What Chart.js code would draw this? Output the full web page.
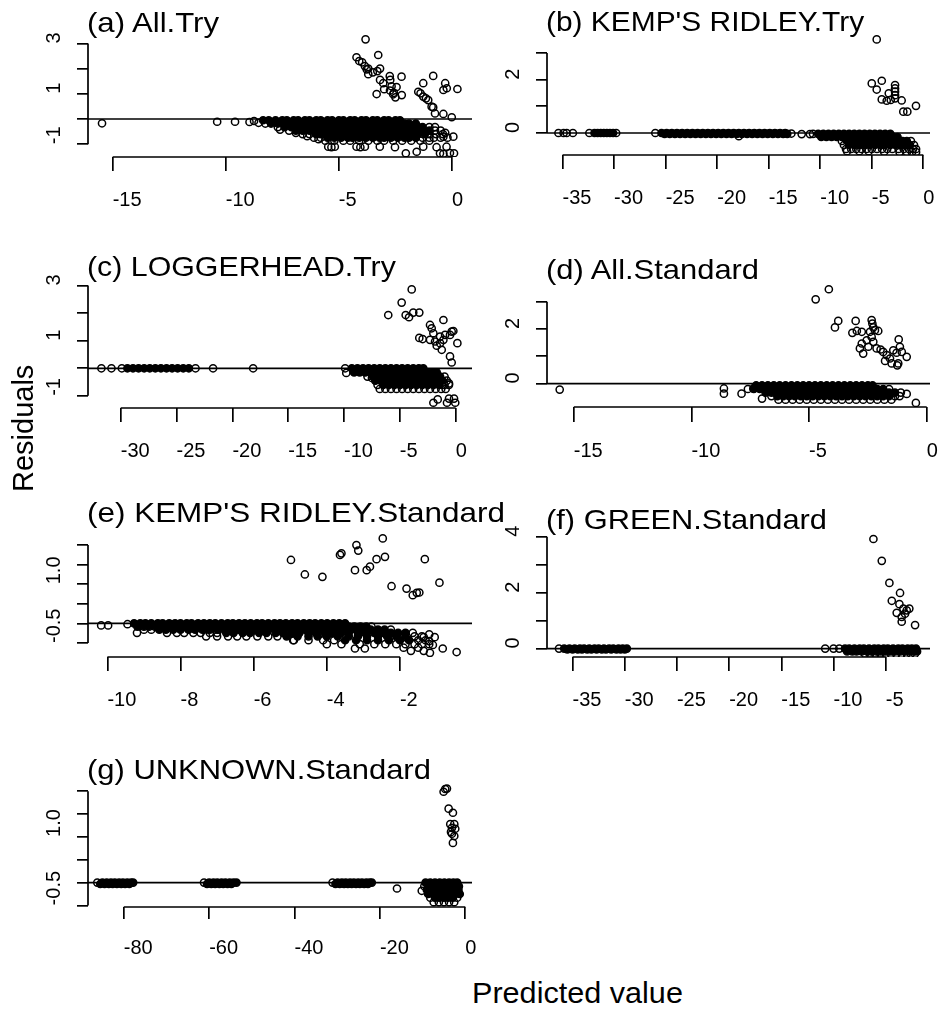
<!DOCTYPE html>
<html>
<head>
<title>Residuals vs predicted</title>
<script src="https://cdn.jsdelivr.net/npm/chart.js"></script>
<style>
  body { margin: 0; background: #fff; }
  #page { position: relative; width: 940px; height: 1012px; overflow: hidden;
          font-family: "Liberation Sans", Arial, sans-serif; color: #000; }
  #page canvas { position: absolute; }
  .txt { position: absolute; white-space: nowrap; line-height: 1; transform-origin: 0 0; }
</style>
</head>
<body>
<div id="page"></div>
<script>
// ---------- values ----------
// loose points are [x, y]; bands are rows [y, [x, x, ...]]
// "Core" rows are where hundreds of points overplot into solid black,
// the other rows are the ragged edge where single circles still show.

// (a) All.Try
const aXTicks = [-15, -10, -5, 0];
const aYTicks = [-1, 0, 1, 2, 3];
const aYLabels = [-1, 1, 3];
const aPoints = [
  [-15.47,-0.17],[-10.38,-0.11],[-9.59,-0.11],[-8.95,-0.12],[-8.75,-0.08],[-8.55,-0.15],
  [-7.6,-0.42],[-6.9,-0.55],[-6.4,-0.68],[-5.9,-0.8],
  [-5.47,-1.1],[-5.33,-1.12],[-5.18,-1.1],[-4.22,-1.1],[-4.05,-1.12],[-3.85,-1.1],[-3.19,-1.1],
  [-2.52,-1.12],[-1.27,-1.1],[-0.68,-1.12],[-0.24,-1.1],
  [-2.04,-1.36],[-1.56,-1.3],[-0.53,-1.36],[-0.38,-1.38],[-0.09,-1.35],[0.09,-1.36],
  [-0.38,-0.7],[0.06,-0.7],[-0.3,-0.55],
  [-3.82,3.16],[-3.26,2.54],[-4.22,2.45],[-4.1,2.3],[-3.97,2.25],[-3.85,2.1],[-3.7,2.0],[-3.77,1.97],
  [-3.18,2.0],[-3.3,1.9],[-3.5,1.85],[-3.7,1.78],[-2.75,1.7],[-3.18,1.55],[-3.04,1.42],[-3.33,0.99],
  [-3.0,1.18],[-2.67,1.3],[-2.74,1.13],[-2.6,0.98],[-2.45,1.27],[-2.57,1.04],[-2.5,0.86],[-2.22,0.95],
  [-1.49,1.08],[-1.39,1.02],[-1.27,0.89],[-1.15,0.82],[-1.05,0.75],[-0.9,0.49],[-0.83,0.46],[-0.75,0.22],
  [-0.38,0.2],[-0.01,0.07],[-1.27,1.42],[-0.83,1.71],[-0.3,1.42],[-0.38,1.15],[-0.23,1.22],[0.24,1.19],
  [-2.73,1.55],[-2.23,1.68]
];
const aCore = [
  [-0.05, [-8.35,-8.1,-7.8,-7.5,-7.3,-7.0,-6.8,-6.5,-6.3,-6.0,-5.8,-5.5,-5.3,-5.0,-4.8,-4.5,-4.3,-4.0,-3.8,-3.5,-3.3,-3.0,-2.8,-2.5,-2.3]],
  [-0.18, [-8.0,-7.7,-7.4,-7.1,-6.9,-6.6,-6.4,-6.1,-5.9,-5.6,-5.4,-5.1,-4.9,-4.6,-4.4,-4.1,-3.9,-3.6,-3.4,-3.1,-2.9,-2.6,-2.4,-2.1,-1.9,-1.6]],
  [-0.32, [-7.4,-7.1,-6.8,-6.5,-6.3,-6.0,-5.7,-5.5,-5.2,-4.9,-4.7,-4.4,-4.2,-3.9,-3.6,-3.4,-3.1,-2.8,-2.6,-2.3,-2.0,-1.8,-1.5,-1.3]],
  [-0.46, [-6.9,-6.6,-6.3,-6.1,-5.8,-5.5,-5.3,-5.0,-4.7,-4.5,-4.2,-3.9,-3.7,-3.4,-3.1,-2.9,-2.6,-2.3,-2.1,-1.8,-1.5,-1.3,-1.0]],
  [-0.6, [-6.0,-5.8,-5.5,-5.2,-5.0,-4.7,-4.4,-4.2,-3.9,-3.6,-3.4,-3.1,-2.8,-2.6,-2.3,-2.0,-1.8,-1.5,-1.2]],
  [-0.74, [-5.5,-5.2,-4.9,-4.6,-4.4,-4.1,-3.8,-3.5,-3.2,-3.0,-2.7,-2.4,-2.1,-1.9,-1.6]]
];
const aRows = [
  [-0.18, [-8.25]],
  [-0.32, [-7.7,-1.0,-0.75]],
  [-0.46, [-7.2,-0.75,-0.5]],
  [-0.6, [-6.6,-6.3,-1.0,-0.7,-0.4]],
  [-0.74, [-6.1,-5.8,-1.3,-1.0,-0.8,-0.5,-0.2]],
  [-0.86, [-5.6,-5.2,-4.8,-4.5,-4.1,-3.7,-3.3,-3.0,-2.6,-2.2,-1.8,-1.4,-1.0]]
];

// (b) KEMP'S RIDLEY.Try
const bXTicks = [-35, -30, -25, -20, -15, -10, -5, 0];
const bYTicks = [0, 1, 2, 3];
const bYLabels = [0, 2];
const bPoints = [
  [-35.4,0],[-34.9,0],[-34.6,0],[-34.0,0],[-32.4,0],[-29.8,0],[-26.0,0],[-12.8,-0.02],
  [-17.9,-0.12],[-11.8,-0.04],[-11.0,-0.04],
  [-7.4,-0.68],[-6.2,-0.68],[-5.3,-0.68],[-3.8,-0.7],[-2.3,-0.72],[-1.6,-0.72],[-1.1,-0.72],[-0.7,-0.72],
  [-4.52,3.51],[-5.0,1.86],[-4.03,1.96],[-4.52,1.63],[-4.03,1.26],[-3.55,1.21],[-3.16,1.24],[-3.35,1.49],
  [-2.74,1.8],[-2.74,1.67],[-2.74,1.55],[-2.74,1.42],[-2.74,1.3],[-2.1,1.22],[-1.94,0.8],[-1.55,0.8],[-0.71,1.02]
];
const bCore = [
  [0, [-31.9,-31.6,-31.3,-31.0,-30.7,-30.4,-30.1]],
  [0, [-25.4,-24.9,-24.4,-23.9,-23.4,-22.9,-22.4,-21.9,-21.4,-20.9,-20.4,-19.9,-19.4,-18.9,-18.4,-17.9,-17.4,-16.9,-16.4,-15.9,-15.4,-14.9,-14.4,-13.9,-13.4]],
  [-0.03, [-25.1,-24.6,-24.1,-23.6,-23.1,-22.6,-22.1,-21.6,-21.1,-20.6,-20.1,-19.6,-19.1,-18.6,-18.1,-17.6,-17.1,-16.6,-16.1,-15.6,-15.1,-14.6,-14.1,-13.6,-13.2]],
  [-0.03, [-10.2,-9.7,-9.2,-8.7,-8.2,-7.7,-7.2,-6.7,-6.2,-5.7,-5.2,-4.7,-4.2,-3.7,-3.2]],
  [-0.15, [-9.9,-9.4,-8.9,-8.4,-7.9,-7.4,-6.9,-6.4,-5.9,-5.4,-4.9,-4.4,-3.9,-3.4,-2.9,-2.5]],
  [-0.3, [-7.4,-6.9,-6.4,-5.9,-5.4,-4.9,-4.4,-3.9,-3.4,-2.9,-2.4,-2.0,-1.6]],
  [-0.45, [-7.2,-6.7,-6.2,-5.7,-5.2,-4.7,-4.2,-3.7,-3.2,-2.7,-2.2,-1.8,-1.3]]
];
const bRows = [
  [-0.03, [-10.7]],
  [-0.3, [-7.9,-1.2]],
  [-0.45, [-7.7,-0.9]],
  [-0.6, [-7.5,-7.0,-6.5,-6.0,-5.5,-5.0,-4.5,-4.0,-3.5,-3.0,-2.4,-1.9,-1.4,-1.0,-0.7]]
];

// (c) LOGGERHEAD.Try
const cXTicks = [-30, -25, -20, -15, -10, -5, 0];
const cYTicks = [-1, 0, 1, 2, 3];
const cYLabels = [-1, 1, 3];
const cPoints = [
  [-31.73,0],[-30.83,0],[-29.9,0],[-23.3,0],[-21.73,0],[-18.14,0],[-9.9,0],
  [-9.8,-0.17],[-7.5,-0.35],[-2.0,-1.25],[-1.61,-1.13],[-0.6,-1.1],[-0.15,-1.1],[-0.78,-1.25],[-0.04,-1.25],
  [-1.2,-0.6],[-0.6,-0.55],
  [-6.04,1.93],[-4.84,2.38],[-3.94,2.86],[-4.48,1.93],[-4.18,1.85],[-3.8,2.02],[-3.26,2.02],[-2.96,1.06],
  [-3.26,1.1],[-2.15,1.45],[-2.0,1.27],[-2.3,1.03],[-1.85,0.97],[-1.4,1.15],[-1.4,0.91],[-1.1,1.03],
  [-0.51,1.21],[-0.36,1.33],[0.15,0.91],[-1.7,0.82],[-1.25,0.67],[-0.95,1.21],[-0.21,1.35],[-1.1,1.75],
  [-2.3,1.57],[-0.51,0.43],[-0.36,0.21]
];
const cCore = [
  [0, [-29.4,-28.9,-28.4,-27.9,-27.4,-26.9,-26.4,-25.9,-25.4,-24.9,-24.4,-23.9]],
  [0, [-9.3,-8.8,-8.3,-7.8,-7.3,-6.8,-6.3,-5.8,-5.3,-4.8,-4.3,-3.8,-3.3,-2.9]],
  [-0.15, [-9.1,-8.6,-8.1,-7.6,-7.1,-6.6,-6.1,-5.6,-5.1,-4.6,-4.1,-3.6,-3.1,-2.6,-2.1,-1.7]],
  [-0.3, [-7.4,-6.9,-6.4,-5.9,-5.4,-4.9,-4.4,-3.9,-3.4,-2.9,-2.4,-1.9,-1.4]],
  [-0.45, [-7.2,-6.7,-6.2,-5.7,-5.2,-4.7,-4.2,-3.7,-3.2,-2.7,-2.2,-1.7,-1.2]],
  [-0.6, [-6.5,-6.0,-5.5,-5.0,-4.5,-4.0,-3.5,-3.0,-2.5,-2.0,-1.5]]
];
const cRows = [
  [-0.3, [-7.9,-1.0]],
  [-0.45, [-0.8]],
  [-0.6, [-7.0,-1.0,-0.6]],
  [-0.75, [-6.8,-6.3,-5.8,-5.3,-4.8,-4.3,-3.8,-3.3,-2.8,-2.3,-1.8,-1.3,-0.9]]
];

// (d) All.Standard
const dXTicks = [-15, -10, -5, 0];
const dYTicks = [0, 1, 2, 3];
const dYLabels = [0, 2];
const dPoints = [
  [-15.6,-0.22],[-8.62,-0.18],[-8.62,-0.37],[-7.87,-0.37],[-7.37,-0.18],[-7.0,-0.55],[-0.85,-0.38],[-0.46,-0.71],
  [-7.6,-0.2],[-1.6,-0.2],[-1.1,-0.33],
  [-4.72,3.09],[-4.16,3.46],[-3.9,2.06],[-3.76,2.3],[-3.02,2.3],[-3.16,1.86],[-2.97,1.93],[-2.76,1.9],
  [-2.34,2.33],[-2.31,2.2],[-2.27,2.06],[-2.41,1.9],[-2.2,1.96],[-2.06,1.93],[-2.34,1.71],[-2.55,1.59],
  [-2.76,1.47],[-2.84,1.29],[-2.7,1.1],[-2.48,1.35],[-2.27,1.53],[-2.13,1.29],[-1.96,1.25],[-1.85,1.16],
  [-1.7,1.04],[-1.56,0.92],[-1.77,0.83],[-1.42,1.22],[-1.28,1.13],[-1.49,0.74],[-1.21,0.74],[-1.14,1.35],
  [-1.25,0.67],[-0.85,0.98],[-1.06,1.16],[-1.19,1.62]
];
const dCore = [
  [-0.07, [-7.25,-7.0,-6.75,-6.5,-6.25,-6.0,-5.75,-5.5,-5.25,-5.0,-4.75,-4.5,-4.25,-4.0,-3.75,-3.5,-3.25,-3.0,-2.75,-2.5,-2.3]],
  [-0.2, [-7.35,-7.1,-6.85,-6.6,-6.35,-6.1,-5.85,-5.6,-5.35,-5.1,-4.85,-4.6,-4.35,-4.1,-3.85,-3.6,-3.35,-3.1,-2.85,-2.6,-2.35,-2.1,-1.85]],
  [-0.33, [-6.85,-6.6,-6.35,-6.1,-5.85,-5.6,-5.35,-5.1,-4.85,-4.6,-4.35,-4.1,-3.85,-3.6,-3.35,-3.1,-2.85,-2.6,-2.35,-2.1,-1.85,-1.6,-1.35]],
  [-0.46, [-6.35,-6.1,-5.85,-5.6,-5.35,-5.1,-4.85,-4.6,-4.35,-4.1,-3.85,-3.6,-3.35,-3.1,-2.85,-2.6,-2.35,-2.1,-1.85,-1.6]]
];
const dRows = [
  [-0.46, [-6.6,-1.35,-1.15]],
  [-0.59, [-6.3,-6.0,-5.7,-5.4,-5.1,-4.8,-4.5,-4.2,-3.9,-3.6,-3.3,-3.0,-2.7,-2.4,-2.1,-1.8,-1.5]]
];

// (e) KEMP'S RIDLEY.Standard
const eXTicks = [-10, -8, -6, -4, -2];
const eYTicks = [-0.5, 0, 0.5, 1, 1.5, 2];
const eYLabels = [-0.5, 1];
const ePoints = [
  [-10.17,-0.05],[-9.98,-0.05],[-9.45,-0.02],[-9.19,-0.24],[-8.37,-0.24],[-4.92,-0.43],[-4.0,-0.53],[-3.23,-0.64],
  [-2.96,-0.64],[-1.18,-0.75],[-0.83,-0.64],[-0.45,-0.73],
  [-1.9,-0.62],[-1.7,-0.7],[-1.5,-0.62],[-1.35,-0.7],[-1.2,-0.45],[-1.1,-0.55],[-1.05,-0.35],[-1.2,-0.28],[-1.35,-0.35],
  [-4.98,1.62],[-4.6,1.25],[-4.12,1.19],[-3.64,1.75],[-3.6,1.79],[-3.19,2.0],[-3.14,1.86],[-3.23,1.36],
  [-2.91,1.36],[-2.82,1.45],[-2.64,1.64],[-2.41,1.7],[-2.47,2.17],[-2.23,0.95],[-1.82,0.89],[-1.65,0.72],
  [-1.54,0.78],[-1.47,0.79],[-1.32,1.64],[-0.92,1.04]
];
const eCore = [
  [0, [-9.27,-9.1,-8.96,-8.8,-8.62,-8.49,-8.31,-8.15,-8.0,-7.83,-7.7,-7.52,-7.36,-7.2,-7.05,-6.88,-6.71,-6.57,-6.4,-6.24,-6.08,-5.91,-5.77,-5.6,-5.43,-5.28,-5.12,-4.95,-4.8,-4.63,-4.47,-4.32,-4.15,-3.99,-3.82,-3.66,-3.5]],
  [-0.08, [-9.18,-9.0,-8.86,-8.7,-8.53,-8.38,-8.2,-8.06,-7.9,-7.73,-7.58,-7.41,-7.26,-7.1,-6.94,-6.78,-6.62,-6.45,-6.3,-6.14,-5.97,-5.82,-5.66,-5.5,-5.34,-5.17,-5.02,-4.86,-4.7,-4.53,-4.38,-4.21,-4.05,-3.9,-3.73,-3.57,-3.4,-3.25,-3.08,-2.92]],
  [-0.16, [-8.58,-8.4,-8.2,-8.0,-7.78,-7.6,-7.4,-7.2,-6.99,-6.8,-6.6,-6.4,-6.2,-6.0,-5.8,-5.6,-5.4,-5.2,-5.0,-4.8,-4.6,-4.4,-4.2,-4.0,-3.8,-3.6,-3.4,-3.2,-3.0,-2.8,-2.6,-2.42]],
  [-0.24, [-6.75,-6.55,-6.3,-6.1,-5.85,-5.65,-5.4,-5.2,-4.95,-4.75,-4.5,-4.3,-4.05,-3.85,-3.6,-3.4,-3.15,-2.95,-2.7,-2.5,-2.25,-2.05,-1.85]],
  [-0.33, [-5.1,-4.8,-4.5,-4.25,-4.0,-3.7,-3.4,-3.15,-2.9,-2.6,-2.35,-2.1,-1.85]],
  [-0.43, [-3.5,-3.2,-2.9,-2.6,-2.3,-2.0,-1.75]]
];
const eRows = [
  [-0.08, [-2.78]],
  [-0.16, [-9.0,-8.8,-2.25]],
  [-0.24, [-8.1,-7.9,-7.65,-7.45,-7.2,-7.0,-1.65]],
  [-0.33, [-7.3,-7.0,-6.7,-6.45,-6.2,-5.9,-5.6,-5.35,-1.6,-1.4]],
  [-0.43, [-4.9,-4.5,-4.1,-3.8,-1.5,-1.3]],
  [-0.53, [-3.6,-3.1,-2.7,-2.4,-2.1,-1.85,-1.6,-1.4,-1.2]]
];

// (f) GREEN.Standard
const fXTicks = [-35, -30, -25, -20, -15, -10, -5];
const fYTicks = [0, 1, 2, 3, 4];
const fYLabels = [0, 2, 4];
const fPoints = [
  [-36.3,0],[-10.8,0],[-10.0,0],[-9.45,0],
  [-6.18,3.92],[-5.38,3.14],[-4.65,2.35],[-3.63,1.99],[-4.42,1.71],[-3.69,1.59],[-3.31,1.43],[-2.99,1.37],
  [-2.74,1.43],[-3.15,1.25],[-3.47,1.13],[-3.95,1.28],[-2.19,0.84],[-3.47,0.96]
];
const fCore = [
  [0, [-35.8,-35.3,-34.8,-34.3,-33.9,-33.4,-32.9,-32.5,-32.0,-31.5,-31.1,-30.6,-30.2,-29.8]],
  [-0.03, [-35.5,-35.0,-34.5,-34.1,-33.6,-33.2,-32.7,-32.2,-31.8,-31.3,-30.8,-30.4,-30.0]],
  [0, [-8.9,-8.5,-8.0,-7.5,-7.1,-6.6,-6.1,-5.7,-5.2,-4.8,-4.3,-3.8,-3.4,-2.9,-2.5,-2.1]],
  [-0.1, [-8.7,-8.2,-7.8,-7.3,-6.8,-6.4,-5.9,-5.5,-5.0,-4.5,-4.1,-3.6,-3.1,-2.7,-2.3,-2.0]]
];
const fRows = [
  [-0.18, [-7.0,-6.5,-6.0,-5.5,-5.0,-4.5,-4.0,-3.5,-3.0,-2.6,-2.2]]
];

// (g) UNKNOWN.Standard
const gXTicks = [-80, -60, -40, -20, 0];
const gYTicks = [-0.5, 0, 0.5, 1, 1.5, 2];
const gYLabels = [-0.5, 1];
const gPoints = [
  [-86.2,0],[-61.2,0],[-31.1,0],[-16.0,-0.13],[-10.2,-0.18],
  [-4.7,2.05],[-5.08,1.99],[-4.3,2.06],[-3.9,1.62],[-2.9,1.53],[-3.52,1.28],[-2.58,1.28],[-3.13,1.2],
  [-2.35,1.18],[-3.13,1.07],[-2.58,1.02],[-2.9,0.87],[-3.35,1.11]
];
const gCore = [
  [0, [-85.0,-84.0,-83.0,-82.1,-81.1,-80.2,-79.2,-78.3,-77.8]],
  [-0.03, [-85.5,-84.5,-83.5,-82.6,-81.6,-80.6,-79.7,-78.7]],
  [0, [-60.0,-59.0,-58.1,-57.1,-56.2,-55.2,-54.3,-53.6]],
  [-0.03, [-60.5,-59.5,-58.6,-57.6,-56.7,-55.7,-54.8]],
  [0, [-29.9,-28.9,-28.0,-27.0,-26.1,-25.1,-24.2,-23.2,-22.4,-21.9]],
  [-0.03, [-30.4,-29.4,-28.4,-27.5,-26.6,-25.6,-24.7,-23.7,-22.8]],
  [0, [-9.3,-8.2,-7.1,-6.0,-4.9,-3.8,-2.8,-1.9]],
  [-0.08, [-8.6,-7.5,-6.5,-5.4,-4.3,-3.3,-2.3,-1.5]],
  [-0.16, [-9.0,-7.9,-6.9,-5.8,-4.8,-3.7,-2.6,-1.6]],
  [-0.25, [-8.7,-7.6,-6.5,-5.5,-4.4,-3.3,-2.3,-1.3]],
  [-0.33, [-7.1,-6.1,-5.0,-4.0,-2.9]]
];
const gRows = [
  [-0.08, [-9.6]],
  [-0.33, [-8.2,-1.9]],
  [-0.43, [-7.4,-6.2,-5.0,-3.8,-2.6]]
];

const titles = ['(a) All.Try', "(b) KEMP'S RIDLEY.Try", '(c) LOGGERHEAD.Try', '(d) All.Standard',
                "(e) KEMP'S RIDLEY.Standard", '(f) GREEN.Standard', '(g) UNKNOWN.Standard'];
const yTitle = 'Residuals';
const xTitle = 'Predicted value';

// ---------- layout (page pixels) ----------
// tw = width the title covers in the figure (its font is a little wide)
const panels = [
  {L: 88, R: 472, T: 35, B: 157, xr: [-16.09, 0.885], yr: [-1.508, 3.333], xtl: 14, tb: 32.7, tw: 132,
   xt: aXTicks, yt: aYTicks, yl: aYLabels, pts: aPoints, core: aCore, rows: aRows},
  {L: 547, R: 930, T: 35, B: 155, xr: [-36.51, 0.65], yr: [-0.825, 3.675], xtl: 14, tb: 31.7, tw: 318,
   xt: bXTicks, yt: bYTicks, yl: bYLabels, pts: bPoints, core: bCore, rows: bRows},
  {L: 88, R: 472, T: 280, B: 408, xr: [-32.93, 1.46], yr: [-1.44, 3.2], xtl: 14, tb: 276.5, tw: 309,
   xt: cXTicks, yt: cYTicks, yl: cYLabels, pts: cPoints, core: cCore, rows: cRows},
  {L: 547, R: 930, T: 280, B: 407, xr: [-16.14, 0.14], yr: [-0.86, 3.8], xtl: 15, tb: 279.5, tw: 213,
   xt: dXTicks, yt: dYTicks, yl: dYLabels, pts: dPoints, core: dCore, rows: dRows},
  {L: 88, R: 472, T: 532, B: 657, xr: [-10.53, -0.03], yr: [-0.857, 2.334], xtl: 14, tb: 523, tw: 418,
   xt: eXTicks, yt: eYTicks, yl: eYLabels, pts: ePoints, core: eCore, rows: eRows},
  {L: 547, R: 930, T: 532, B: 657, xr: [-37.45, -0.76], yr: [-0.30, 4.17], xtl: 14, tb: 530, tw: 281,
   xt: fXTicks, yt: fYTicks, yl: fYLabels, pts: fPoints, core: fCore, rows: fRows},
  {L: 88, R: 472, T: 784, B: 907, xr: [-88.38, 1.57], yr: [-0.535, 2.16], xtl: 12, tb: 780, tw: 344,
   xt: gXTicks, yt: gYTicks, yl: gYLabels, pts: gPoints, core: gCore, rows: gRows}
];

const FONT = '"Liberation Sans", Arial, sans-serif';
Chart.defaults.font.family = FONT;
Chart.defaults.color = '#000';

function buildData(points, rows) {
  const out = points.map(p => ({x: p[0], y: p[1]}));
  rows.forEach(r => r[1].forEach(x => out.push({x: x, y: r[0]})));
  return out;
}

// R style axes: line only between first and last tick, rotated y labels
const rAxes = {
  id: 'rAxes',
  afterDraw(chart, args, opts) {
    const {ctx, chartArea} = chart;
    const xs = chart.scales.x, ys = chart.scales.y;
    const xt = xs.ticks, yt = ys.ticks;
    ctx.save();
    ctx.strokeStyle = '#000';
    ctx.lineWidth = 1.7;
    ctx.beginPath();
    ctx.moveTo(xs.getPixelForValue(xt[0].value), chartArea.bottom);
    ctx.lineTo(xs.getPixelForValue(xt[xt.length - 1].value), chartArea.bottom);
    ctx.moveTo(chartArea.left, ys.getPixelForValue(yt[0].value));
    ctx.lineTo(chartArea.left, ys.getPixelForValue(yt[yt.length - 1].value));
    ctx.stroke();

    ctx.fillStyle = '#000';
    ctx.font = '20px ' + FONT;
    ctx.textAlign = 'left';
    ctx.textBaseline = 'alphabetic';
    opts.labels.forEach(v => {
      ctx.save();
      ctx.translate(chartArea.left - 28.5, ys.getPixelForValue(v));
      ctx.rotate(-Math.PI / 2);
      ctx.fillText(opts.half ? v.toFixed(1) : String(v), 0, 0);
      ctx.restore();
    });
    ctx.restore();
  }
};

const page = document.getElementById('page');

function addText(str, size, left, top, width, rotate) {
  const d = document.createElement('div');
  d.className = 'txt';
  d.style.fontSize = size + 'px';
  d.style.left = left + 'px';
  d.style.top = top + 'px';
  d.textContent = str;
  page.appendChild(d);
  let tf = rotate ? 'rotate(-90deg) ' : '';
  if (width) tf += 'scaleX(' + (width / d.getBoundingClientRect().width).toFixed(3) + ')';
  d.style.transform = tf;
  return d;
}

panels.forEach((p, i) => {
  const cv = document.createElement('canvas');
  const w = p.R - p.L + 94, h = p.B - p.T + 68;
  cv.width = w; cv.height = h;
  cv.style.left = (p.L - 80) + 'px';
  cv.style.top = (p.T - 6) + 'px';
  cv.style.width = w + 'px';
  cv.style.height = h + 'px';
  page.appendChild(cv);

  const half = p.yt.some(v => !Number.isInteger(v));

  new Chart(cv, {
    type: 'scatter',
    data: {
      datasets: [
        {
          type: 'line',
          data: [{x: p.xr[0], y: 0}, {x: p.xr[1], y: 0}],
          borderColor: '#000',
          borderWidth: 1.7,
          pointRadius: 0,
          showLine: true,
          fill: false
        },
        {
          data: buildData(p.pts, p.rows),
          pointStyle: 'circle',
          pointRadius: 3.6,
          pointHoverRadius: 3.6,
          pointBorderWidth: 1.5,
          pointBorderColor: '#000',
          pointBackgroundColor: 'rgba(0,0,0,0)',
          borderColor: '#000',
          backgroundColor: 'rgba(0,0,0,0)'
        },
        {
          data: buildData([], p.core),
          pointStyle: 'circle',
          pointRadius: 3.6,
          pointHoverRadius: 3.6,
          pointBorderWidth: 1.5,
          pointBorderColor: '#000',
          pointBackgroundColor: '#000',
          borderColor: '#000',
          backgroundColor: '#000'
        }
      ]
    },
    options: {
      responsive: false,
      animation: false,
      devicePixelRatio: 1,
      events: [],
      layout: {padding: {left: 0, top: 6, right: 14, bottom: 0}},
      plugins: {
        legend: {display: false},
        tooltip: {enabled: false},
        rAxes: {labels: p.yl, half: half}
      },
      scales: {
        x: {
          type: 'linear', position: 'bottom', bounds: 'data',
          min: p.xr[0], max: p.xr[1],
          afterBuildTicks: s => { s.ticks = p.xt.map(v => ({value: v})); },
          afterFit: s => { s.height = 62; s.paddingLeft = 0; s.paddingRight = 0; },
          border: {display: false},
          grid: {drawOnChartArea: false, drawTicks: true, tickLength: p.xtl, color: '#000', lineWidth: 1.7},
          ticks: {align: 'start', padding: 17, autoSkip: false, maxRotation: 0, minRotation: 0,
                  color: '#000', font: {size: 20}, callback: v => String(v)}
        },
        y: {
          type: 'linear', position: 'left', bounds: 'data',
          min: p.yr[0], max: p.yr[1],
          afterBuildTicks: s => { s.ticks = p.yt.map(v => ({value: v})); },
          afterFit: s => { s.width = 80; s.paddingTop = 0; s.paddingBottom = 0; },
          border: {display: false},
          grid: {drawOnChartArea: false, drawTicks: true, tickLength: 11, color: '#000', lineWidth: 1.7},
          ticks: {display: false}
        }
      }
    },
    plugins: [rAxes]
  });

  // panel title, left aligned on the plot region
  addText(titles[i], 28, p.L - 1, p.tb - 23.7, p.tw, false);
});

// outer axis titles
addText(yTitle, 29, 8.5, 492, 0, true);
addText(xTitle, 29, 472, 978.5, 211, false);
</script>
</body>
</html>
